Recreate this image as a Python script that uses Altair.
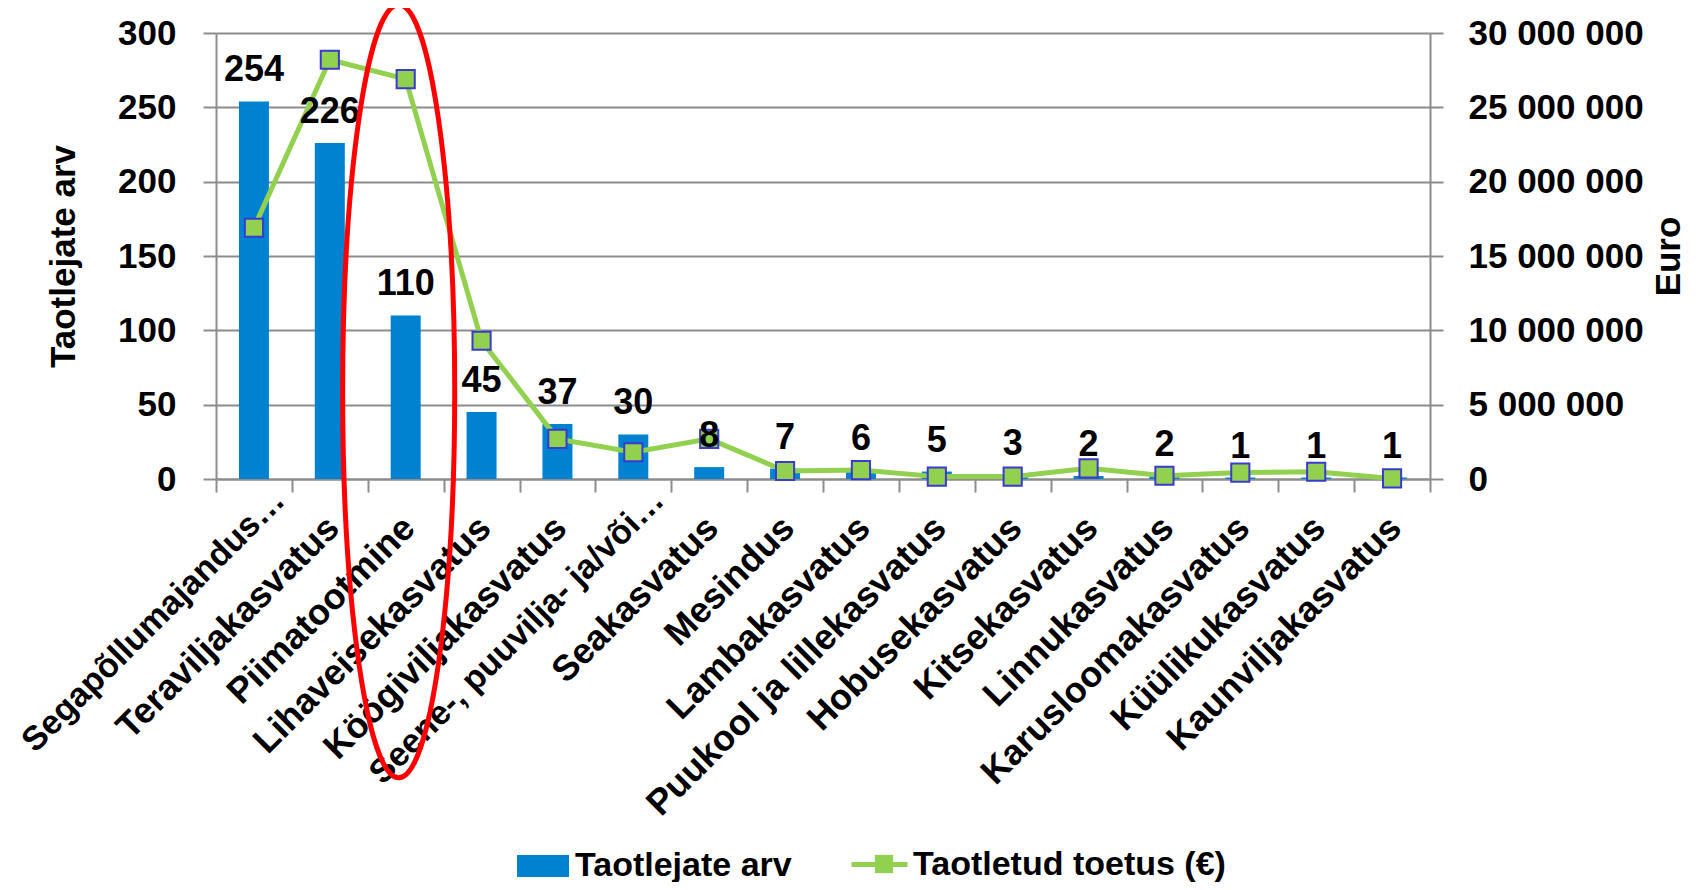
import altair as alt
import pandas as pd

# ---- data ----
categories = [
    "Segapõllumajandus…", "Teraviljakasvatus", "Piimatootmine", "Lihaveisekasvatus",
    "Köögiviljakasvatus", "Seene-, puuvilja- ja/või…", "Seakasvatus", "Mesindus",
    "Lambakasvatus", "Puukool ja lillekasvatus", "Hobusekasvatus", "Kitsekasvatus",
    "Linnukasvatus", "Karusloomakasvatus", "Küülikukasvatus", "Kaunviljakasvatus",
]
applicants = [254, 226, 110, 45, 37, 30, 8, 7, 6, 5, 3, 2, 2, 1, 1, 1]
support_eur = [16_900_000, 28_200_000, 26_900_000, 9_300_000, 2_700_000, 1_800_000,
               2_700_000, 540_000, 600_000, 160_000, 160_000, 720_000, 220_000,
               430_000, 490_000, 40_000]
left_ticks = [0, 50, 100, 150, 200, 250, 300]
right_ticks = [0, 5_000_000, 10_000_000, 15_000_000, 20_000_000, 25_000_000, 30_000_000]
series_names = ["Taotlejate arv", "Taotletud toetus (€)"]
highlight_category = ["Piimatootmine"]
highlight_center = [59]

# ---- styling ----
ARIAL = "Liberation Sans, Arial, sans-serif"
GRAY = "#8C8C8C"
BLUE = "#0082D0"
GREEN = "#92D050"
MARKER_EDGE = "#3A3AD0"

df = pd.DataFrame({
    "cat": categories,
    "applicants": applicants,
    "support": support_eur,
    "s1": [series_names[0]] * len(categories),
    "s2": [series_names[1]] * len(categories),
    "s3": [series_names[1]] * len(categories),
})
hl = pd.DataFrame({"cat": highlight_category, "v": highlight_center})

TRUNC = "indexof(datum.label, '…') >= 0"

x_enc = alt.X(
    "cat:N", sort=categories,
    scale=alt.Scale(paddingInner=0, paddingOuter=0),
    axis=alt.Axis(
        title=None, labelAngle=-45, labelAlign="right", labelBaseline="middle",
        labelFont=ARIAL, labelFontWeight="bold", labelColor="black",
        labelFontSize={"condition": {"test": TRUNC, "value": 34}, "value": 36},
        labelPadding={"condition": {"test": TRUNC, "value": 3}, "value": 30},
        labelOffset={"condition": {"test": TRUNC, "value": 25}, "value": 3},
        labelLimit=1000, labelOverlap=False,
        tickBand="extent", tickSize=13, tickColor=GRAY, tickWidth=2,
        domainColor=GRAY, domainWidth=2, grid=False,
    ),
)

left_scale = alt.Scale(domain=[0, 300], nice=False, zero=True)
right_scale = alt.Scale(domain=[0, 30_000_000], nice=False, zero=True)

bars = alt.Chart(df).mark_bar(size=30).encode(
    x=x_enc,
    y=alt.Y("applicants:Q", scale=left_scale, axis=alt.Axis(
        values=left_ticks, orient="left", grid=True, gridColor=GRAY, gridWidth=2,
        domainColor=GRAY, domainWidth=2, tickColor=GRAY, tickWidth=2, tickSize=13,
        labelFont=ARIAL, labelFontSize=35, labelFontWeight="bold", labelColor="black",
        labelPadding=27, labelLimit=1000,
        title="Taotlejate arv", titleFont=ARIAL, titleFontSize=35, titleFontWeight="bold",
        titleColor="black", titleAngle=270, titleX=-153, titleY=223,
        titleAlign="center", titleBaseline="middle",
    )),
    fill=alt.Fill("s1:N", scale=alt.Scale(domain=[series_names[0]], range=[BLUE]),
                  legend=alt.Legend(
                      orient="none", legendX=301, legendY=807, title=None, padding=0,
                      symbolType="M-1,-0.42H1V0.42H-1Z", symbolSize=2704,
                      symbolStrokeWidth=0, labelFont=ARIAL, labelFontSize=34,
                      labelFontWeight="bold", labelColor="black", labelOffset=6,
                      labelLimit=1000)),
)

line = alt.Chart(df).mark_line(strokeWidth=5).encode(
    x=x_enc,
    y=alt.Y("support:Q", scale=right_scale, axis=alt.Axis(
        values=right_ticks, orient="right", grid=False,
        domainColor=GRAY, domainWidth=2, tickColor=GRAY, tickWidth=2, tickSize=13,
        labelFont=ARIAL, labelFontSize=35, labelFontWeight="bold", labelColor="black",
        labelPadding=25, labelLimit=1000,
        labelExpr="replace(format(datum.value, ',d'), regexp(',', 'g'), ' ')",
        title="Euro", titleFont=ARIAL, titleFontSize=35, titleFontWeight="bold",
        titleColor="black", titleAngle=270, titleX=238, titleY=223,
        titleAlign="center", titleBaseline="middle",
    )),
    stroke=alt.Stroke("s2:N", scale=alt.Scale(domain=[series_names[1]], range=[GREEN]),
                      legend=alt.Legend(
                          orient="none", legendX=633, legendY=801, title=None, padding=0,
                          symbolType="stroke", symbolSize=3136, symbolStrokeWidth=5,
                          labelFont=ARIAL, labelFontSize=34, labelFontWeight="bold",
                          labelColor="black", labelOffset=3, labelLimit=1000)),
)

points = alt.Chart(df).mark_point(shape="square", filled=True, size=330, color=GREEN,
                                  stroke=MARKER_EDGE, strokeWidth=2, opacity=1).encode(
    x=x_enc,
    y=alt.Y("support:Q", scale=right_scale, axis=None),
    shape=alt.Shape("s3:N", scale=alt.Scale(domain=[series_names[1]], range=["square"]),
                    legend=alt.Legend(
                        orient="none", legendX=651, legendY=814, title=None, padding=0,
                        symbolSize=330, symbolFillColor=GREEN, symbolStrokeColor=MARKER_EDGE,
                        symbolStrokeWidth=2, symbolOpacity=1, labelExpr="''",
                        labelFontSize=34, labelFont=ARIAL, labelLimit=1000)),
)

labels = alt.Chart(df).mark_text(
    font=ARIAL, fontSize=36, fontWeight="bold", baseline="alphabetic", dy=-20,
    color="black",
).encode(
    x=x_enc,
    y=alt.Y("applicants:Q", scale=left_scale, axis=None),
    text=alt.Text("applicants:Q"),
)

ellipse = alt.Chart(hl).mark_point(
    shape="M0,-1A0.145,1,0,1,1,0,1A0.145,1,0,1,1,0,-1Z",
    size=597529, stroke="#FF0000", strokeWidth=5, filled=False, opacity=1, xOffset=-7,
).encode(
    x=x_enc,
    y=alt.Y("v:Q", scale=left_scale, axis=None),
)

chart = alt.layer(bars, line, points, labels, ellipse).resolve_scale(
    y="independent", fill="independent", stroke="independent", shape="independent"
).properties(
    width=1214, height=446,
    autosize=alt.AutoSizeParams(type="none"),
    padding={"left": 208, "top": 25, "right": 258, "bottom": 403},
    background="white",
).configure_view(stroke=None)

chart.save("out.html", embed_options={"renderer": "svg", "actions": False})
